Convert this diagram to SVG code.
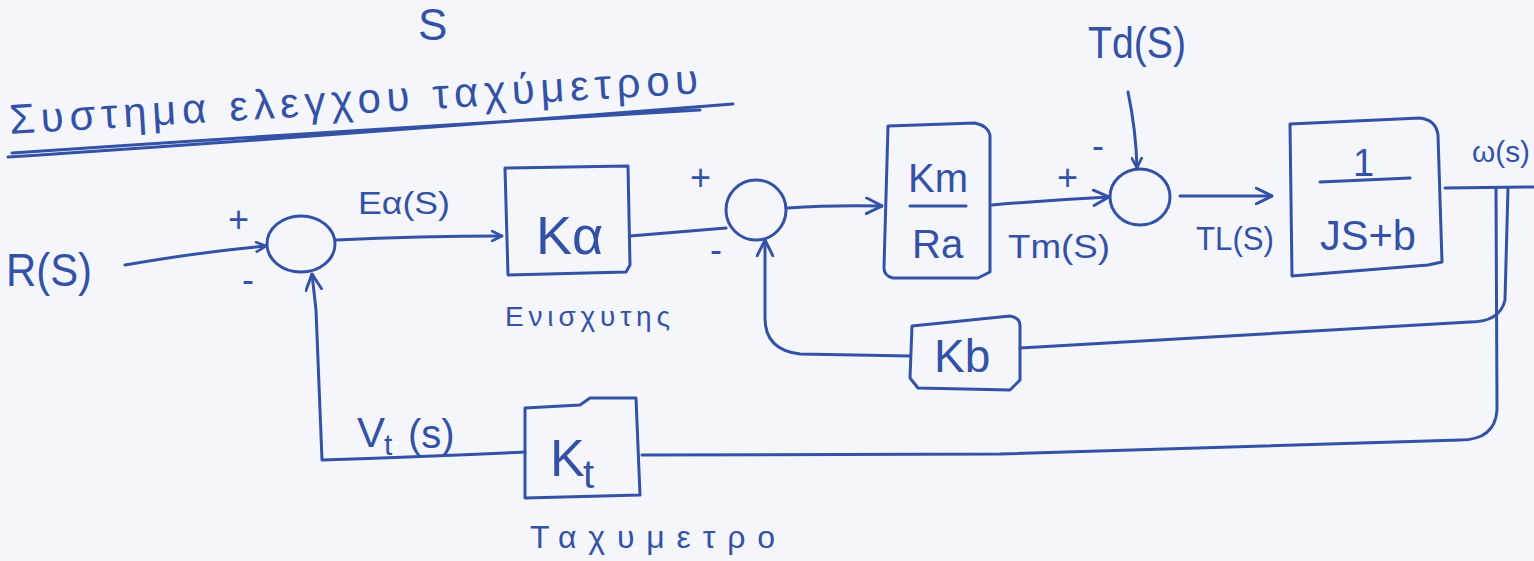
<svg xmlns="http://www.w3.org/2000/svg" width="1534" height="561" viewBox="0 0 1534 561">
<defs>
<style>
.ink{fill:none;stroke:#3352a6;stroke-width:3;stroke-linecap:round;stroke-linejoin:round}
.t{fill:#3352a6;font-family:"Liberation Sans","DejaVu Sans",sans-serif}
</style>
<marker id="ah" viewBox="0 0 12 12" refX="11" refY="6" markerWidth="12" markerHeight="12" markerUnits="userSpaceOnUse" orient="auto">
<path d="M1,1 L11,6 L1,11" fill="none" stroke="#3352a6" stroke-width="2.6" stroke-linecap="round"/>
</marker>
<marker id="ahb" viewBox="0 0 16 16" refX="15" refY="8" markerWidth="18" markerHeight="18" markerUnits="userSpaceOnUse" orient="auto">
<path d="M1,1 L15,8 L1,15" fill="none" stroke="#3352a6" stroke-width="2.6" stroke-linecap="round"/>
</marker>
</defs>
<rect width="1534" height="561" fill="#f5f6fc"/>

<g id="title">
<text class="t" x="418" y="40" font-size="44">S</text>
<text class="t" x="10" y="134" font-size="42" transform="rotate(-3.4 10 134)" textLength="690" lengthAdjust="spacing">Συστημα ελεγχου ταχύμετρου</text>
<path class="ink" d="M8,157 Q300,138 733,104 M12,153 Q320,132 700,110"/>
</g>

<g id="R">
<text class="t" x="6" y="286" font-size="46" textLength="86" lengthAdjust="spacingAndGlyphs">R(S)</text>
</g>

<g id="sum1">
<ellipse class="ink" cx="301" cy="244" rx="34" ry="28"/>
<text class="t" x="228" y="232" font-size="36">+</text>
<text class="t" x="242" y="292" font-size="36">-</text>
</g>

<g id="Ka">
<path class="ink" d="M505,168 L628,166 L630,265 L626,272 L508,275 Z"/>
<text class="t" x="536" y="254" font-size="54">Kα</text>
<text class="t" x="505" y="326" font-size="28" textLength="165" lengthAdjust="spacing">Ενισχυτης</text>
</g>

<g id="sum2">
<ellipse class="ink" cx="756" cy="210" rx="30" ry="30"/>
<text class="t" x="690" y="190" font-size="36">+</text>
<text class="t" x="710" y="262" font-size="36">-</text>
</g>

<g id="KmRa">
<path class="ink" d="M888,126 L975,123 Q988,126 990,135 L990,272 L978,278 L893,278 Q884,276 884,268 Z"/>
<text class="t" x="908" y="192" font-size="40">Km</text>
<path class="ink" d="M910,206 L966,206"/>
<text class="t" x="912" y="258" font-size="40">Ra</text>
</g>

<g id="sum3">
<ellipse class="ink" cx="1140" cy="197" rx="30" ry="28"/>
<text class="t" x="1057" y="190" font-size="36">+</text>
<text class="t" x="1092" y="158" font-size="36">-</text>
<text class="t" x="1088" y="58" font-size="44" textLength="98" lengthAdjust="spacingAndGlyphs">Td(S)</text>
</g>

<g id="plant">
<path class="ink" d="M1290,124 L1420,118 Q1436,120 1438,135 L1442,262 L1428,265 L1292,276 Z"/>
<text class="t" x="1353" y="176" font-size="38">1</text>
<path class="ink" d="M1320,182 L1410,178"/>
<text class="t" x="1320" y="250" font-size="42" textLength="96" lengthAdjust="spacingAndGlyphs">JS+b</text>
<text class="t" x="1472" y="162" font-size="30" textLength="58" lengthAdjust="spacingAndGlyphs">ω(s)</text>
</g>

<g id="Kb">
<path class="ink" d="M912,326 L1010,316 Q1020,318 1020,325 L1020,380 L1010,390 L918,388 L910,378 Z"/>
<text class="t" x="934" y="372" font-size="46">Kb</text>
</g>

<g id="Kt">
<path class="ink" d="M525,408 L580,405 L590,398 L636,398 L640,495 L525,498 Z"/>
<text class="t" x="550" y="476" font-size="52">K</text>
<text class="t" x="583" y="488" font-size="40">t</text>
<text class="t" x="530" y="548" font-size="32" textLength="245" lengthAdjust="spacing">Ταχυμετρο</text>
</g>

<g id="connectors">
<path class="ink" marker-end="url(#ah)" d="M125,265 Q200,252 266,246"/>
<text class="t" x="358" y="214" font-size="32" textLength="92" lengthAdjust="spacingAndGlyphs">Eα(S)</text>
<path class="ink" marker-end="url(#ah)" d="M336,240 Q420,236 502,236"/>
<path class="ink" d="M630,236 Q680,232 726,228"/>
<path class="ink" marker-end="url(#ahb)" d="M788,208 Q830,205 882,206"/>
<path class="ink" marker-end="url(#ahb)" d="M992,205 Q1050,200 1109,197"/>
<text class="t" x="1008" y="258" font-size="34" textLength="102" lengthAdjust="spacingAndGlyphs">Tm(S)</text>
<path class="ink" marker-end="url(#ah)" d="M1128,92 Q1136,130 1137,168"/>
<path class="ink" marker-end="url(#ahb)" d="M1180,196 L1272,196"/>
<text class="t" x="1196" y="250" font-size="34" textLength="78" lengthAdjust="spacingAndGlyphs">TL(S)</text>
<path class="ink" d="M1445,188 L1534,187"/>
<path class="ink" d="M1508,188 L1505,300 Q1500,322 1470,322 L1020,348"/>
<path class="ink" d="M1496,188 L1497,410 Q1495,440 1460,440 L1000,454 L642,455"/>
<path class="ink" marker-end="url(#ahb)" d="M910,356 L800,354 Q765,350 765,318 L765,240"/>
<path class="ink" marker-end="url(#ahb)" d="M525,452 Q420,457 322,460 L316,310 L312,274"/>
<text class="t" x="357" y="447" font-size="42">V</text>
<text class="t" x="384" y="455" font-size="30">t</text>
<text class="t" x="408" y="448" font-size="40">(s)</text>
</g>
</svg>
